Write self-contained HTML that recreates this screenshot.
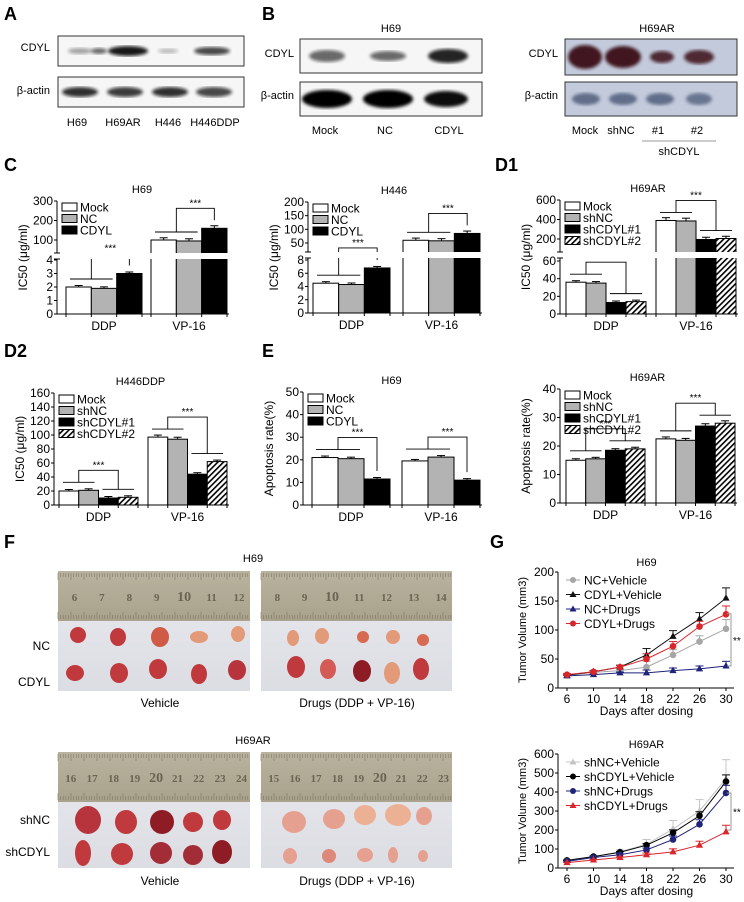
<!DOCTYPE html>
<html><head><meta charset="utf-8">
<style>
html,body{margin:0;padding:0;background:#fff;}
svg{display:block;font-family:"Liberation Sans",Arial,sans-serif;}
</style></head>
<body>
<svg id="fig" width="744" height="902" viewBox="0 0 744 902" xmlns="http://www.w3.org/2000/svg">
<defs>
<pattern id="hatch" width="4" height="4" patternUnits="userSpaceOnUse" patternTransform="rotate(45)">
<rect width="4" height="4" fill="#fff"/><rect width="1.6" height="4" fill="#000"/>
</pattern>
<linearGradient id="ruler" x1="0" y1="0" x2="0" y2="1"><stop offset="0" stop-color="#b9b39f"/><stop offset="1" stop-color="#a9a28c"/></linearGradient>
<linearGradient id="bg" x1="0" y1="0" x2="0" y2="1"><stop offset="0" stop-color="#e9eaef"/><stop offset="1" stop-color="#dcdde3"/></linearGradient>
<filter id="blur"><feGaussianBlur stdDeviation="1.5"/></filter>
</defs>
<g id="root"></g>
</svg>
<script>
// ---------- DATA ----------
const drugCats = ["DDP", "VP-16"];
const cLegend = ["Mock", "NC", "CDYL"];
const shLegend = ["Mock", "shNC", "shCDYL#1", "shCDYL#2"];
const cH69Values = [[2.0, 1.9, 3.0], [100, 95, 160]];
const cH446Values = [[4.5, 4.3, 6.8], [60, 58, 85]];
const d1Values = [[36, 35, 13, 14], [390, 385, 195, 205]];
const d2Values = [[20, 21, 10, 11], [97, 94, 44, 62]];
const eH69Values = [[21, 20.5, 11.5], [19.5, 21.2, 11]];
const eH69ARValues = [[15, 15.5, 18.5, 19], [22.5, 22, 27, 28]];
const cH69Ticks = [0, 1, 2, 3, 4, 100, 200, 300];
const cH446Ticks = [0, 2, 4, 6, 8, 50, 100, 150, 200];
const d1Ticks = [0, 20, 40, 60, 200, 400, 600];
const d2Ticks = [0, 20, 40, 60, 80, 100, 120, 140, 160];
const eH69Ticks = [0, 10, 20, 30, 40, 50];
const eH69ARTicks = [0, 10, 20, 30, 40];
const days = [6, 10, 14, 18, 22, 26, 30];
const g1Names = ["NC+Vehicle", "CDYL+Vehicle", "NC+Drugs", "CDYL+Drugs"];
const g1NCVeh = [22, 27, 30, 36, 57, 80, 102];
const g1CDYLVeh = [22, 28, 36, 57, 89, 119, 155];
const g1NCDrug = [21, 23, 26, 26, 30, 33, 38];
const g1CDYLDrug = [23, 28, 36, 50, 72, 106, 127];
const g1Err = [2, 2, 3, 10, 9, 10, 16];
const g2Names = ["shNC+Vehicle", "shCDYL+Vehicle", "shNC+Drugs", "shCDYL+Drugs"];
const g2shNCVeh = [40, 60, 85, 125, 205, 300, 470];
const g2shCDYLVeh = [40, 60, 83, 120, 185, 275, 455];
const g2shNCDrug = [35, 55, 70, 95, 150, 230, 395];
const g2shCDYLDrug = [28, 42, 55, 70, 85, 120, 190];
const g2Err = [5, 8, 10, 25, 45, 60, 100];
const g1Ticks = [0, 50, 100, 150, 200];
const g2Ticks = [0, 100, 200, 300, 400, 500, 600];

const NS = "http://www.w3.org/2000/svg";
const root = document.getElementById("root");
function el(tag, attrs, parent, txt) {
  const e = document.createElementNS(NS, tag);
  for (const k in attrs) e.setAttribute(k, attrs[k]);
  if (txt !== undefined) e.textContent = txt;
  (parent || root).appendChild(e);
  return e;
}
function txt(x, y, s, size, parent, anchor, extra) {
  return el("text", Object.assign({x: x, y: y, "font-size": size || 11, "text-anchor": anchor || "middle", fill: "#000"}, extra || {}), parent, s);
}

// ---------- Panel letters ----------
[["A",4,20],["B",262,20],["C",4,171],["D1",495,171],["D2",4,357],["E",262,357],["F",4,548],["G",490,548]].forEach(p => {
  const t = txt(p[1], p[2], p[0], 18, root, "start", {"font-weight": "bold"});
  
  
});

// ---------- Western blots ----------
function blot(x, y, w, h, bands, bgc, bandColor, name) {
  const g = el("g", {});
  
  
  el("rect", {x: x, y: y, width: w, height: h, fill: bgc, stroke: "#333", "stroke-width": 1}, g);
  bands.forEach(b => {
    el("ellipse", {cx: b[0], cy: y + h / 2, rx: b[1], ry: b[2], fill: bandColor, opacity: b[3], filter: "url(#blur)"}, g);
  });
  return g;
}
// A
txt(50, 51, "CDYL", 11, root, "end");
txt(50, 94, "β-actin", 11, root, "end");
blot(58, 36, 186, 30, [[80,12,3,0.35],[99,8,3,0.6],[128,20,5,0.95],[168,10,2.5,0.25],[212,18,4,0.75]], "#f6f6f6", "#111", "blot-a-cdyl");
blot(58, 77, 186, 30, [[80,18,5,0.85],[125,18,5,0.8],[170,18,5,0.85],[214,18,5,0.75]], "#f6f6f6", "#111", "blot-a-actin");
[["H69",77],["H69AR",123],["H446",168],["H446DDP",215]].forEach(l => txt(l[1], 126, l[0], 11));
// B left
txt(391, 32, "H69", 11);
txt(294, 57, "CDYL", 11, root, "end");
txt(294, 99, "β-actin", 11, root, "end");
blot(300, 39, 182, 34, [[327,18,6,0.6],[388,18,5,0.6],[448,20,7,0.9]], "#f6f6f6", "#111", "blot-b-h69-cdyl");
blot(300, 82, 182, 34, [[327,25,9,1],[388,25,9,1],[446,22,8,0.95]], "#f6f6f6", "#000", "blot-b-h69-actin");
[["Mock",325],["NC",385],["CDYL",449]].forEach(l => txt(l[1], 134, l[0], 11));
// B right
txt(657, 32, "H69AR", 11);
txt(558, 57, "CDYL", 11, root, "end");
txt(558, 99, "β-actin", 11, root, "end");
blot(565, 39, 172, 36, [[585,17,12,0.95],[623,18,11,0.95],[662,12,6,0.85],[699,15,7,0.85]], "#c2cadb", "#3a0f18", "blot-b-h69ar-cdyl");
blot(565, 82, 172, 34, [[586,14,6,0.6],[623,14,6,0.6],[660,14,6,0.6],[699,13,6,0.55]], "#c2cadb", "#243253", "blot-b-h69ar-actin");
[["Mock",585],["shNC",621],["#1",658],["#2",697]].forEach(l => txt(l[1], 134, l[0], 11));
el("line", {x1: 642, y1: 141, x2: 716, y2: 141, stroke: "#777", "stroke-width": 0.8});
txt(679, 155, "shCDYL", 11);

// ---------- Bar charts ----------
function makeScale(cfg) {
  return function (v) {
    if (!cfg.high || v <= cfg.lowMax) {
      const l = cfg.low; return l[1] + (v - l[0]) * (l[3] - l[1]) / (l[2] - l[0]);
    }
    const h = cfg.high; return h[1] + (v - h[0]) * (h[3] - h[1]) / (h[2] - h[0]);
  };
}
function barChart(cfg) {
  const g = el("g", {});
  
  
  const y = makeScale(cfg);
  const fills = ["#fff", "#b3b3b3", "#000", "url(#hatch)"];
  const n = cfg.values[0].length;
  const bw = cfg.groupW / n;
  cfg.values.forEach((grp, gi) => {
    const gx = cfg.groupX[gi];
    grp.forEach((v, bi) => {
      const yy = y(v);
      const b = el("rect", {x: gx + bi * bw, y: yy, width: bw, height: cfg.bottom - yy, fill: fills[bi], stroke: "#000", "stroke-width": 1}, g);
      
      
      const e = Math.max(1.5, (cfg.bottom - yy) * 0.03);
      el("line", {x1: gx + bi * bw + bw / 2, y1: yy, x2: gx + bi * bw + bw / 2, y2: yy - e, stroke: "#000"}, g);
      el("line", {x1: gx + bi * bw + bw / 2 - 4, y1: yy - e, x2: gx + bi * bw + bw / 2 + 4, y2: yy - e, stroke: "#000"}, g);
    });
    const half = n === 3 ? 2 : n / 2;
    const ctrl = grp.slice(0, half), trt = grp.slice(half);
    const yc = Math.min(...ctrl.map(y)) - 8, yt = Math.min(...trt.map(y)) - 8;
    const top = Math.min(yc, yt) - 12;
    const cx1 = gx, cx2 = gx + half * bw, tx1 = gx + half * bw, tx2 = gx + n * bw;
    el("line", {x1: cx1 + 4, y1: yc, x2: cx2 - 4, y2: yc, stroke: "#000", "stroke-width": 0.9}, g);
    if (n === 4) el("line", {x1: tx1 + 4, y1: yt, x2: tx2 - 4, y2: yt, stroke: "#000", "stroke-width": 0.9}, g);
    const mc = (cx1 + cx2) / 2, mt = n === 4 ? (tx1 + tx2) / 2 : tx1 + bw / 2;
    el("polyline", {points: `${mc},${yc} ${mc},${top} ${mt},${top} ${mt},${yt}`, fill: "none", stroke: "#000", "stroke-width": 0.9}, g);
    txt((mc + mt) / 2, top - 2, "***", 10, g);
    txt(gx + cfg.groupW / 2, cfg.bottom + 16, drugCats[gi], 12, g);
  });
  if (cfg.high) el("rect", {x: cfg.axisX - 3, y: cfg.breakY[0], width: cfg.groupX[1] + cfg.groupW + 2 - cfg.axisX + 3, height: cfg.breakY[1] - cfg.breakY[0], fill: "#fff"}, g);
  const axTop = y(cfg.ticks[cfg.ticks.length - 1]);
  if (cfg.high) {
    el("line", {x1: cfg.axisX, y1: cfg.bottom, x2: cfg.axisX, y2: cfg.breakY[1], stroke: "#000"}, g);
    el("line", {x1: cfg.axisX, y1: cfg.breakY[0], x2: cfg.axisX, y2: axTop, stroke: "#000"}, g);
    el("line", {x1: cfg.axisX - 3, y1: cfg.breakY[1], x2: cfg.axisX + 3, y2: cfg.breakY[1], stroke: "#000"}, g);
    el("line", {x1: cfg.axisX - 3, y1: cfg.breakY[0], x2: cfg.axisX + 3, y2: cfg.breakY[0], stroke: "#000"}, g);
  } else {
    el("line", {x1: cfg.axisX, y1: cfg.bottom, x2: cfg.axisX, y2: axTop, stroke: "#000"}, g);
  }
  el("line", {x1: cfg.axisX, y1: cfg.bottom, x2: cfg.groupX[1] + cfg.groupW + 2, y2: cfg.bottom, stroke: "#000"}, g);
  cfg.values.forEach((grp, gi) => {
    for (let i = 0; i <= n; i++) el("line", {x1: cfg.groupX[gi] + i * bw, y1: cfg.bottom, x2: cfg.groupX[gi] + i * bw, y2: cfg.bottom + 3, stroke: "#000"}, g);
  });
  cfg.ticks.forEach(t => {
    const yy = y(t);
    el("line", {x1: cfg.axisX - 3, y1: yy, x2: cfg.axisX, y2: yy, stroke: "#000"}, g);
    txt(cfg.axisX - 4, yy + 4, String(t), 12, g, "end");
  });
  const yl = txt(0, 0, cfg.ylabel, 12, g, "middle", {transform: `translate(${cfg.axisX - 30},${(axTop + cfg.bottom) / 2}) rotate(-90)`});
  
  
  txt((cfg.axisX + cfg.groupX[1] + cfg.groupW) / 2, axTop - 8, cfg.title, 11, g);
  cfg.legend.forEach((s, i) => {
    const ly = axTop + 2 + i * 11.5;
    const lg = el("g", {}, g);
    
    
    el("rect", {x: cfg.axisX + 5, y: ly, width: 15, height: 8, fill: fills[i], stroke: "#000"}, lg);
    txt(cfg.axisX + 23, ly + 8.5, s, 12, lg, "start");
  });
}
barChart({name: "chart-c-h69", title: "H69", axisX: 57, bottom: 314, groupX: [66, 151], groupW: 76, values: cH69Values, ticks: cH69Ticks,
  low: [0, 314, 4, 260], high: [100, 240, 300, 201], lowMax: 4, breakY: [253, 259], legend: cLegend, ylabel: "IC50 (μg/ml)"});
barChart({name: "chart-c-h446", title: "H446", axisX: 308, bottom: 313, groupX: [313, 403], groupW: 77, values: cH446Values, ticks: cH446Ticks,
  low: [0, 313, 8, 260], high: [50, 243, 200, 202], lowMax: 8, breakY: [252, 258], legend: cLegend, ylabel: "IC50 (μg/ml)"});
barChart({name: "chart-d1-h69ar", title: "H69AR", axisX: 560, bottom: 314, groupX: [566, 656], groupW: 80, values: d1Values, ticks: d1Ticks,
  low: [0, 314, 60, 261], high: [200, 239, 600, 200], lowMax: 60, breakY: [252, 258], legend: shLegend, ylabel: "IC50 (μg/ml)"});
barChart({name: "chart-d2-h446ddp", title: "H446DDP", axisX: 54, bottom: 505, groupX: [59, 148], groupW: 79, values: d2Values, ticks: d2Ticks,
  low: [0, 505, 160, 393], legend: shLegend, ylabel: "IC50 (μg/ml)"});
barChart({name: "chart-e-h69", title: "H69", axisX: 303, bottom: 505, groupX: [312, 402], groupW: 78, values: eH69Values, ticks: eH69Ticks,
  low: [0, 505, 50, 392], legend: cLegend, ylabel: "Apoptosis rate(%)"});
barChart({name: "chart-e-h69ar", title: "H69AR", axisX: 560, bottom: 503, groupX: [566, 656], groupW: 79, values: eH69ARValues, ticks: eH69ARTicks,
  low: [0, 503, 40, 389], legend: shLegend, ylabel: "Apoptosis rate(%)"});

// ---------- Panel F photos ----------
function photo(x, y, w, h, rulerH, nums, tumors, name) {
  const g = el("g", {});
  
  
  el("rect", {x: x, y: y, width: w, height: h, fill: "url(#bg)"}, g);
  el("rect", {x: x, y: y, width: w, height: rulerH, fill: "url(#ruler)"}, g);
  for (let i = 0; i < w; i += 2.6) {
    const l = (Math.round(i / 2.6) % 5 === 0) ? 7 : 4;
    el("line", {x1: x + i, y1: y + 2, x2: x + i, y2: y + 2 + l, stroke: "#7c7663", "stroke-width": 0.6}, g);
    el("line", {x1: x + i, y1: y + rulerH - 2, x2: x + i, y2: y + rulerH - 2 - l, stroke: "#7c7663", "stroke-width": 0.6}, g);
  }
  const step = w / nums.length;
  nums.forEach((n, i) => txt(x + step * (i + 0.6), y + rulerH / 2 + 5, n, n === "10" || n === "20" ? 14 : 11, g, "middle", {fill: "#6b6452", "font-family": "Liberation Serif, serif", "font-weight": "bold"}));
  tumors.forEach(t => el("ellipse", {cx: t[0], cy: t[1], rx: t[2], ry: t[3], fill: t[4]}, g));
}
const red = "#c0393c", pale = "#e29a78", dark = "#8e1c24", pink = "#e6a090";
txt(253, 562, "H69", 11);
photo(58, 571, 192, 120, 50, ["6","7","8","9","10","11","12"],
  [[78,635,8,8,red],[118,637,8,9,red],[160,637,9,10,"#cf5a46"],[199,637,9,6,pale],[238,634,7,8,pale],
   [75,673,9,8,red],[119,673,9,10,red],[158,669,9,10,red],[199,674,8,10,red],[237,670,9,10,"#b8343c"]], "photo-h69-vehicle");
photo(261, 571, 191, 120, 50, ["8","9","10","11","12","13","14"],
  [[293,638,6,8,pale],[322,636,7,8,pale],[363,637,6,6,"#d86a52"],[393,637,7,7,pale],[423,640,6,6,"#d86a52"],
   [296,667,9,11,red],[328,669,8,10,"#d45a55"],[362,671,9,11,dark],[392,673,8,11,pale],[421,669,8,11,red]], "photo-h69-drugs");
txt(50, 650, "NC", 12, root, "end");
txt(50, 686, "CDYL", 12, root, "end");
txt(160, 707, "Vehicle", 12);
txt(357, 707, "Drugs (DDP + VP-16)", 12);
txt(253, 744, "H69AR", 11);
photo(58, 752, 192, 116, 50, ["16","17","18","19","20","21","22","23","24"],
  [[88,820,13,14,"#b8343c"],[126,822,11,12,red],[162,822,12,12,dark],[193,822,10,10,red],[222,820,9,10,red],
   [83,853,8,13,red],[122,854,11,11,red],[161,853,11,11,"#a32d36"],[193,855,10,10,"#a32d36"],[222,852,10,12,dark]], "photo-h69ar-vehicle");
photo(261, 752, 191, 116, 50, ["15","16","17","18","19","20","21","22","23"],
  [[294,822,12,11,pink],[334,819,11,10,pink],[365,815,11,10,"#ecb094"],[398,815,13,11,"#ecb094"],[424,816,8,9,pink],
   [290,856,7,8,pink],[329,856,7,7,"#dd8878"],[365,855,8,7,pink],[393,855,5,8,pink],[423,856,5,6,pink]], "photo-h69ar-drugs");
txt(50, 824, "shNC", 12, root, "end");
txt(50, 856, "shCDYL", 12, root, "end");
txt(160, 885, "Vehicle", 12);
txt(357, 885, "Drugs (DDP + VP-16)", 12);

// ---------- Panel G line charts ----------
function lineChart(cfg) {
  const g = el("g", {});
  
  
  const xs = d => cfg.x0 + (d - days[0]) * (cfg.x1 - cfg.x0) / (days[days.length - 1] - days[0]);
  const ys = v => cfg.bottom - v * (cfg.bottom - cfg.top) / cfg.ymax;
  el("line", {x1: cfg.axisX, y1: cfg.bottom, x2: cfg.axisX, y2: cfg.top, stroke: "#000"}, g);
  el("line", {x1: cfg.axisX, y1: cfg.bottom, x2: cfg.x1 + 8, y2: cfg.bottom, stroke: "#000"}, g);
  cfg.ticks.forEach(t => {
    el("line", {x1: cfg.axisX - 3, y1: ys(t), x2: cfg.axisX, y2: ys(t), stroke: "#000"}, g);
    txt(cfg.axisX - 4, ys(t) + 4, String(t), 12, g, "end");
  });
  days.forEach(d => {
    el("line", {x1: xs(d), y1: cfg.bottom, x2: xs(d), y2: cfg.bottom + 3, stroke: "#000"}, g);
    txt(xs(d), cfg.bottom + 15, String(d), 12, g);
  });
  txt((cfg.x0 + cfg.x1) / 2, cfg.bottom + 27, "Days after dosing", 12, g);
  txt(0, 0, "Tumor Volume (mm3)", 11, g, "middle", {transform: `translate(${cfg.axisX - 32},${(cfg.top + cfg.bottom) / 2}) rotate(-90)`});
  txt((cfg.x0 + cfg.x1) / 2, cfg.top - 6, cfg.title, 11, g);
  cfg.series.forEach((s, si) => {
    const sg = el("g", {}, g);
    
    
    const pts = s.vals.map((v, i) => xs(days[i]) + "," + ys(v)).join(" ");
    el("polyline", {points: pts, fill: "none", stroke: s.color, "stroke-width": 1}, sg);
    s.vals.forEach((v, i) => {
      const cx = xs(days[i]), cy = ys(v), e = cfg.err[i] * s.ef;
      el("line", {x1: cx, y1: cy, x2: cx, y2: ys(v + e), stroke: s.color}, sg);
      el("line", {x1: cx - 4, y1: ys(v + e), x2: cx + 4, y2: ys(v + e), stroke: s.color}, sg);
      if (s.shape === "c") el("circle", {cx: cx, cy: cy, r: 3.3, fill: s.color}, sg);
      else el("polygon", {points: `${cx},${cy - 4} ${cx - 3.6},${cy + 2.5} ${cx + 3.6},${cy + 2.5}`, fill: s.color}, sg);
    });
    const ly = cfg.top + 8 + si * 14.5;
    const lx = cfg.axisX + 8;
    el("line", {x1: lx, y1: ly, x2: lx + 14, y2: ly, stroke: s.color}, sg);
    if (s.shape === "c") el("circle", {cx: lx + 7, cy: ly, r: 3, fill: s.color}, sg);
    else el("polygon", {points: `${lx + 7},${ly - 3.5} ${lx + 3.5},${ly + 2.5} ${lx + 10.5},${ly + 2.5}`, fill: s.color}, sg);
    txt(lx + 18, ly + 4.5, cfg.names[si], 12, sg, "start");
  });
  const a = cfg.sig[0], b = cfg.sig[1], bx = cfg.x1 + 5;
  el("polyline", {points: `${cfg.x1 + 1},${ys(a)} ${bx},${ys(a)} ${bx},${ys(b)} ${cfg.x1 + 1},${ys(b)}`, fill: "none", stroke: "#999"}, g);
  txt(bx + 2, (ys(a) + ys(b)) / 2 + 4, "**", 10, g, "start");
}
lineChart({name: "chart-g-h69", title: "H69", axisX: 558, x0: 567, x1: 726, top: 572, bottom: 688, ymax: 200, ticks: g1Ticks, err: g1Err, names: g1Names, sig: [128, 38],
  series: [{vals: g1NCVeh, color: "#a6a6a6", shape: "c", ef: 1}, {vals: g1CDYLVeh, color: "#111", shape: "t", ef: 1.1},
           {vals: g1NCDrug, color: "#1f237a", shape: "t", ef: 0.5}, {vals: g1CDYLDrug, color: "#d8262b", shape: "c", ef: 0.9}]});
lineChart({name: "chart-g-h69ar", title: "H69AR", axisX: 558, x0: 567, x1: 726, top: 754, bottom: 868, ymax: 600, ticks: g2Ticks, err: g2Err, names: g2Names, sig: [395, 200],
  series: [{vals: g2shNCVeh, color: "#c4c4c4", shape: "t", ef: 1}, {vals: g2shCDYLVeh, color: "#000", shape: "c", ef: 0.35},
           {vals: g2shNCDrug, color: "#1f237a", shape: "c", ef: 0.4}, {vals: g2shCDYLDrug, color: "#d8262b", shape: "t", ef: 0.35}]});
</script>
</body></html>
